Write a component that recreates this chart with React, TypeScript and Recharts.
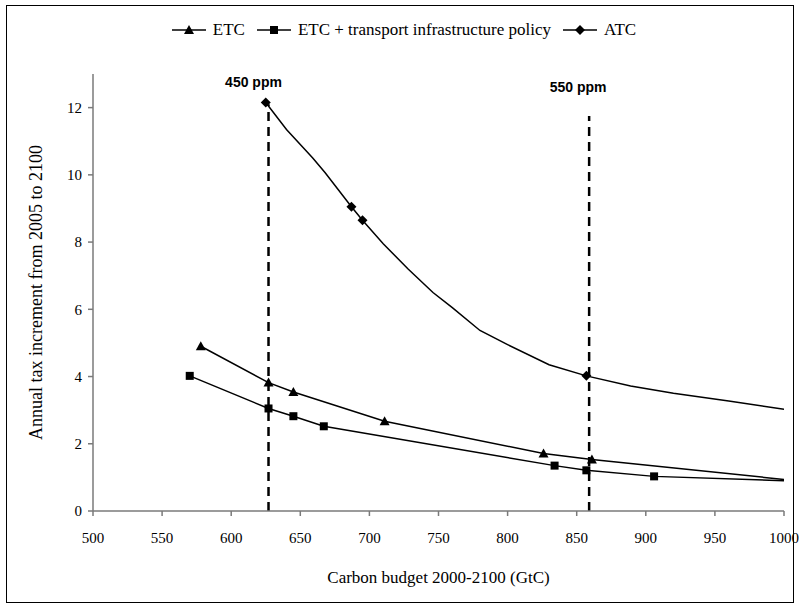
import { LineChart, Line, XAxis, YAxis, ReferenceLine, Label } from "recharts";

const budgetTicks = [500, 550, 600, 650, 700, 750, 800, 850, 900, 950, 1000];
const taxTicks = [0, 2, 4, 6, 8, 10, 12];

// ETC
const etcBudget = [578, 627, 645, 711, 826, 861, 1000];
const etcTax = [4.9, 3.82, 3.54, 2.67, 1.71, 1.53, 0.94];

// ETC + transport infrastructure policy
const etcTransBudget = [570, 627, 645, 667, 834, 857, 906, 1000];
const etcTransTax = [4.02, 3.05, 2.82, 2.52, 1.35, 1.21, 1.03, 0.9];

// ATC curve and its marked points
const atcBudget = [625, 640, 659, 668, 687, 695, 710, 728, 746, 760, 780, 800, 830, 857, 889, 920, 960, 1000];
const atcTax = [12.15, 11.35, 10.5, 10.06, 9.05, 8.65, 7.95, 7.2, 6.5, 6.05, 5.37, 4.95, 4.35, 4.02, 3.72, 3.5, 3.27, 3.03];
const atcMarkBudget = [625, 687, 695, 857];
const atcMarkTax = [12.15, 9.05, 8.65, 4.02];

// concentration targets
const ppmLabels = ["450 ppm", "550 ppm"];
const ppmBudget = [627, 859];
const ppmTop = [12.1, 11.75];

const zip = (xs: number[], ys: number[]) => xs.map((x, i) => ({ budget: x, tax: ys[i] }));

const etcData = zip(etcBudget, etcTax);
const etcTransData = zip(etcTransBudget, etcTransTax);
const atcData = zip(atcBudget, atcTax);
const atcMarks = zip(atcMarkBudget, atcMarkTax);

const serif = "'Liberation Serif', 'Times New Roman', serif";
const axisGrey = "#7a7a7a";

const Triangle = ({ cx, cy }: any) => (
  <polygon points={`${cx},${cy - 5} ${cx - 5},${cy + 4} ${cx + 5},${cy + 4}`} fill="#000" />
);
const Square = ({ cx, cy }: any) => <rect x={cx - 4} y={cy - 4} width={8} height={8} fill="#000" />;
const Diamond = ({ cx, cy }: any) => (
  <polygon points={`${cx},${cy - 5} ${cx + 5},${cy} ${cx},${cy + 5} ${cx - 5},${cy}`} fill="#000" />
);

// no marker on the model end point at 1000
const dotExceptLast = (Shape: any, n: number) => (props: any) =>
  props.index === n - 1 ? <g key={props.key} /> : <Shape key={props.key} {...props} />;

const legendItems = [
  { name: "ETC", Shape: Triangle },
  { name: "ETC + transport infrastructure policy", Shape: Square },
  { name: "ATC", Shape: Diamond },
];

const LegendBox = () => (
  <div
    style={{
      position: "absolute",
      left: 0,
      top: 20,
      width: 820,
      display: "flex",
      justifyContent: "center",
      fontFamily: serif,
      fontSize: 17,
      lineHeight: "20px",
    }}
  >
    {legendItems.map(({ name, Shape }) => (
      <div key={name} style={{ display: "flex", alignItems: "center", marginRight: 12 }}>
        <svg width={34} height={12}>
          <line x1={0} y1={6} x2={34} y2={6} stroke="#000" strokeWidth={1.5} />
          <Shape cx={17} cy={6} />
        </svg>
        <span style={{ marginLeft: 7 }}>{name}</span>
      </div>
    ))}
  </div>
);

const PpmLabel = (text: string, dx: number, dy: number) => (props: any) => {
  const { viewBox } = props;
  return (
    <text
      x={viewBox.x + dx}
      y={viewBox.y + dy}
      textAnchor="middle"
      fontFamily="'Liberation Sans', Arial, sans-serif"
      fontWeight="bold"
      fontSize={14}
      fill="#000"
    >
      {text}
    </text>
  );
};

export default function App() {
  return (
    <div style={{ position: "absolute", left: 0, top: 0, width: 799, height: 605, background: "#fff" }}>
      <div
        style={{
          position: "absolute",
          left: 6,
          top: 5,
          width: 786,
          height: 596,
          border: "1.5px solid #000",
        }}
      />
      <LegendBox />
      <div style={{ position: "absolute", left: 0, top: 0 }}>
        <LineChart width={799} height={605} margin={{ top: 74, right: 15, left: 33, bottom: 64 }}>
          <XAxis
            type="number"
            dataKey="budget"
            domain={[500, 1000]}
            ticks={budgetTicks}
            allowDataOverflow
            stroke={axisGrey}
            strokeWidth={1.5}
            tickSize={5}
            tick={{ fill: "#000", fontFamily: serif, fontSize: 15 }}
            tickMargin={16}
            height={30}
          >
            <Label
              value="Carbon budget 2000-2100 (GtC)"
              position="insideBottom"
              offset={-42}
              style={{ fill: "#000", fontFamily: serif, fontSize: 17 }}
            />
          </XAxis>
          <YAxis
            type="number"
            dataKey="tax"
            domain={[0, 13]}
            ticks={taxTicks}
            allowDataOverflow
            stroke={axisGrey}
            strokeWidth={1.5}
            tickSize={5}
            tick={{ fill: "#000", fontFamily: serif, fontSize: 15 }}
            tickMargin={6}
            width={60}
          >
            <Label
              value="Annual tax increment from 2005 to 2100"
              angle={-90}
              position="insideLeft"
              offset={3}
              style={{ textAnchor: "middle", fill: "#000", fontFamily: serif, fontSize: 18 }}
            />
          </YAxis>
          {ppmBudget.map((b, i) => (
            <ReferenceLine
              key={ppmLabels[i]}
              segment={[
                { x: b, y: 0 },
                { x: b, y: ppmTop[i] },
              ]}
              stroke="#000"
              strokeWidth={2.5}
              strokeDasharray="9 6"
              label={PpmLabel(ppmLabels[i], i === 0 ? -15 : -11, i === 0 ? -17 : -24)}
            />
          ))}
          <Line
            data={etcData}
            dataKey="tax"
            name="ETC"
            type="linear"
            stroke="#000"
            strokeWidth={1.5}
            dot={dotExceptLast(Triangle, etcData.length)}
            isAnimationActive={false}
          />
          <Line
            data={etcTransData}
            dataKey="tax"
            name="ETC + transport infrastructure policy"
            type="linear"
            stroke="#000"
            strokeWidth={1.5}
            dot={dotExceptLast(Square, etcTransData.length)}
            isAnimationActive={false}
          />
          <Line
            data={atcData}
            dataKey="tax"
            name="ATC"
            type="linear"
            stroke="#000"
            strokeWidth={1.5}
            dot={false}
            isAnimationActive={false}
          />
          <Line
            data={atcMarks}
            dataKey="tax"
            name="ATC points"
            legendType="none"
            stroke="none"
            dot={<Diamond />}
            isAnimationActive={false}
          />
        </LineChart>
      </div>
    </div>
  );
}
